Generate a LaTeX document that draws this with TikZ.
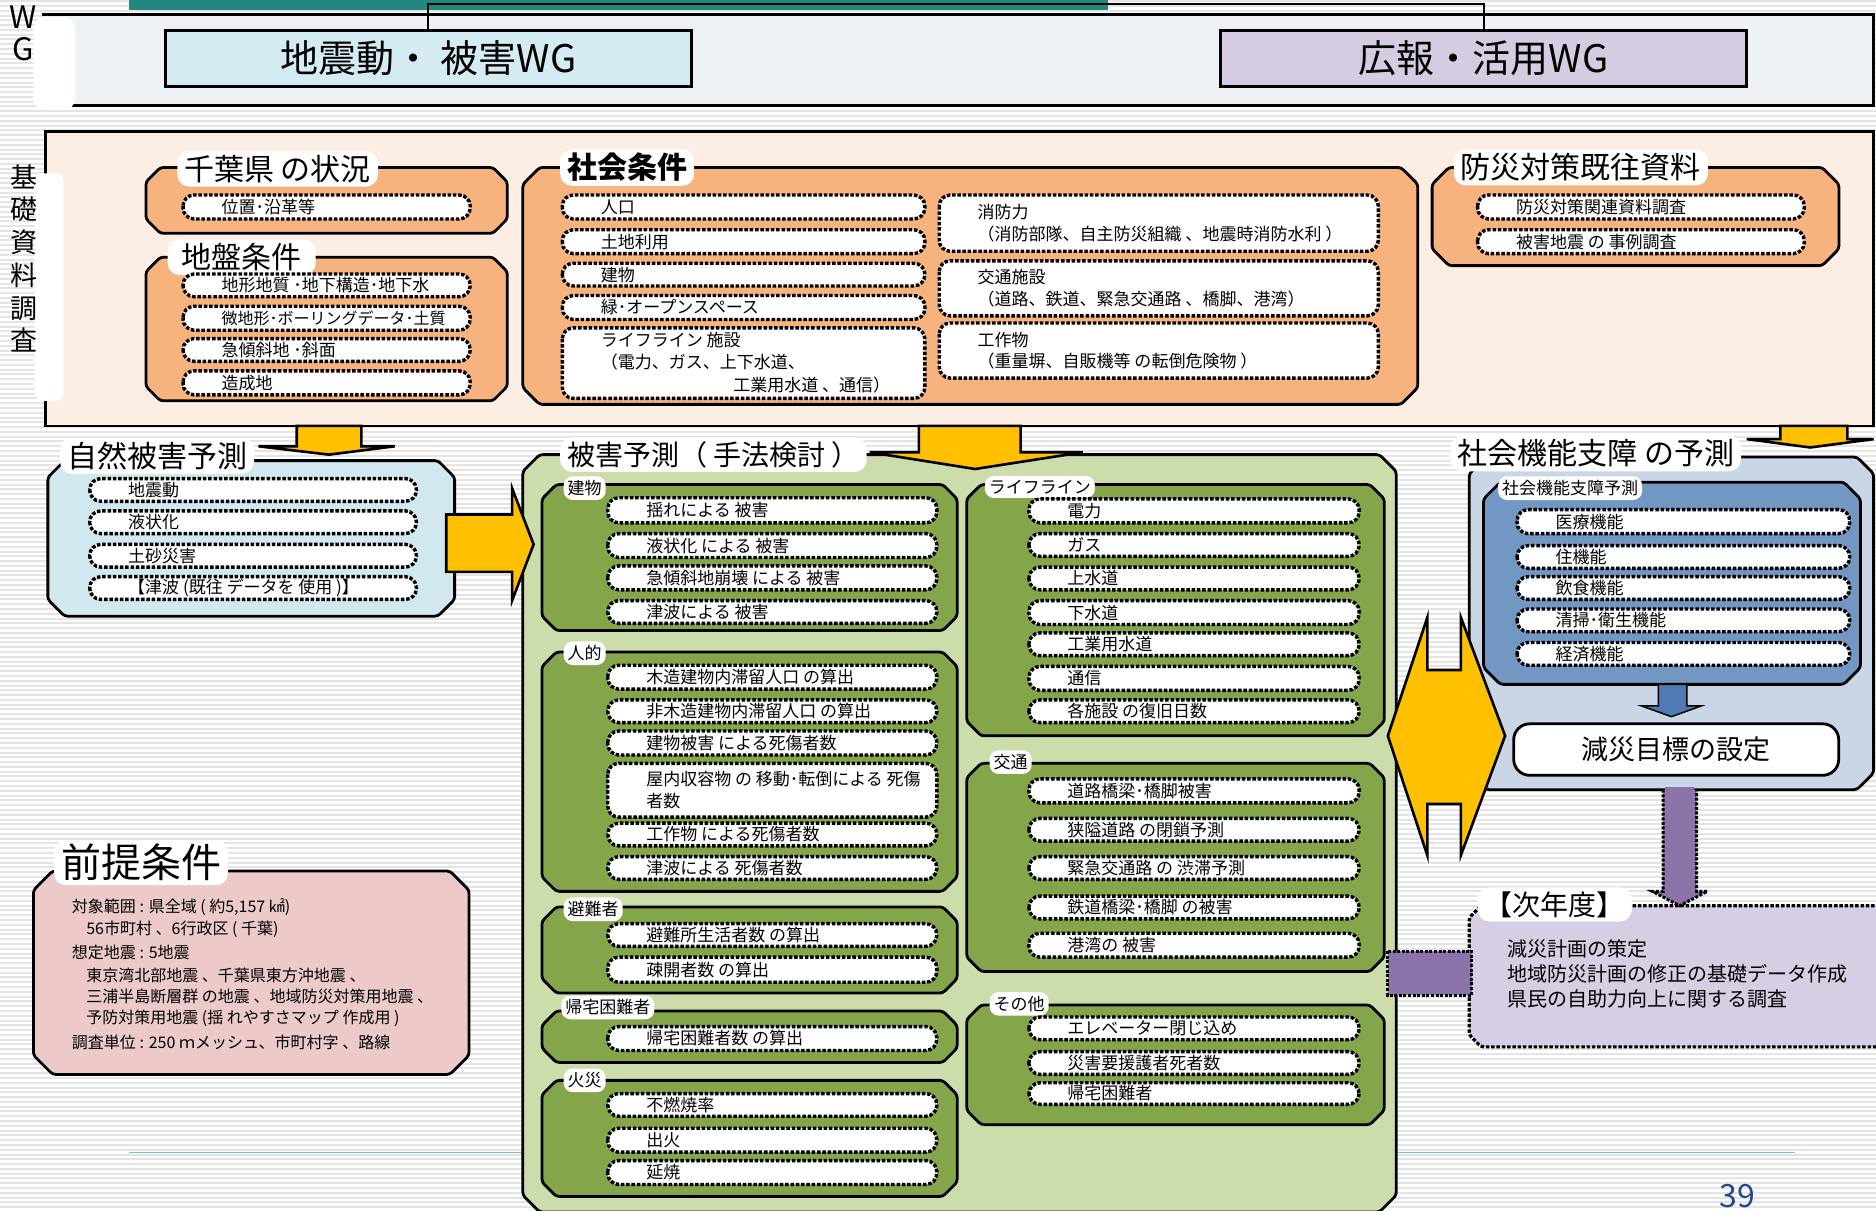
\documentclass[tikz,border=0pt]{standalone}
\usepackage{fontspec}
\setmainfont{Noto Sans CJK JP}
\definecolor{bandc}{HTML}{EEF1F6}
\definecolor{tealc}{HTML}{22877F}
\definecolor{cyanc}{HTML}{D3EBF1}
\definecolor{lavc}{HTML}{D5CCE1}
\definecolor{peachc}{HTML}{FDEEE4}
\definecolor{orangec}{HTML}{F7B37E}
\definecolor{skyc}{HTML}{D2E8EF}
\definecolor{lgreenc}{HTML}{CCDCAB}
\definecolor{dgreenc}{HTML}{84A549}
\definecolor{gbluec}{HTML}{C9D6E6}
\definecolor{mbluec}{HTML}{7197C2}
\definecolor{pinkc}{HTML}{EDCACA}
\definecolor{yellowc}{HTML}{FFC000}
\definecolor{purplec}{HTML}{8C74AA}
\definecolor{barrowc}{HTML}{4F7BB5}
\definecolor{numc}{HTML}{25488A}
\definecolor{stripec}{HTML}{E4E4E4}
\definecolor{linec}{HTML}{7CC3C3}
\definecolor{nlavc}{HTML}{D8CEE3}
\newcommand\chpanel[6]{\draw[#1] (#2+#6,#3) -- (#4-#6,#3) -- (#4,#3+#6) -- (#4,#5-#6) -- (#4-#6,#5) -- (#2+#6,#5) -- (#2,#5-#6) -- (#2,#3+#6) -- cycle;}
\newcommand\itembx[6]{\draw[itemst] (#2,#3) rectangle (#4,#5);
  \node[itxt] (#1) at (#2+32,{(#3+#5)/2}) {#6};}
\begin{document}
\begin{tikzpicture}[x=1.1964pt, y=-1.1964pt,
  pan/.style={draw=black, line width=2.8pt, rounded corners=3pt},
  itemst/.style={fill=white, draw=black, line width=3.4pt, dash pattern=on 3.5pt off 1.8pt, rounded corners=11pt},
  itxt/.style={anchor=west, inner sep=0pt, align=left, font=\fontsize{17}{21.5}\selectfont},
  ttl/.style={fill=white, rounded corners=12pt, anchor=west, inner xsep=7pt, inner ysep=4pt, font=\fontsize{30}{30}\selectfont},
  tag/.style={fill=white, rounded corners=9pt, anchor=west, inner xsep=4pt, inner ysep=4pt, font=\fontsize{17}{17}\selectfont},
  wgbox/.style={draw=black, line width=3pt, minimum width=526pt, minimum height=56pt, font=\fontsize{38}{38}\selectfont, inner sep=0pt},
  yarr/.style={fill=yellowc, draw=black, line width=2.6pt, line join=miter},
  parr/.style={fill=purplec, draw=black, line width=3pt, dash pattern=on 3pt off 1.6pt},
  ptxt/.style={anchor=west, inner sep=0pt, font=\fontsize{16}{16}\selectfont},
  ntxt/.style={anchor=west, inner sep=0pt, font=\fontsize{20}{20}\selectfont},
]
\useasboundingbox (0,0) rectangle (1568,1012);
\fill[white] (0,0) rectangle (1568,1012);
\foreach \yy in {1,5,...,1011} {\draw[stripec, line width=2pt] (0,\yy) -- (1568,\yy);}

% top band
\fill[tealc] (108,0) rectangle (926,8);
\fill[bandc] (35,12) rectangle (1566,88);
\draw[line width=3pt] (35,12) -- (1566,12) -- (1566,88) -- (35,88);
\fill[white, rounded corners=12pt] (28,14) rectangle (63,92);
\node[font=\fontsize{31}{31}\selectfont, inner sep=0pt] (wl) at (19,14) {W};
\node[font=\fontsize{31}{31}\selectfont, inner sep=0pt] (gl) at (19,41) {G};
\node[wgbox, fill=cyanc] (wg1) at (358,48.5) {地震動・ 被害WG};
\node[wgbox, fill=lavc] (wg2) at (1240,48.5) {広報・活用WG};
\coordinate (jn) at (800,3);
\draw[line width=2pt] (wg1.north) |- (jn) -| (wg2.north);

% basic survey panel
\draw[fill=peachc, line width=2.6pt] (38,110) rectangle (1566,356);
\fill[white, rounded corners=8pt] (29,145) rectangle (53,335);
\node[font=\fontsize{27}{32.7}\selectfont, align=center, inner sep=0pt] (vl) at (20,216) {基\\礎\\資\\料\\調\\査};

\chpanel{pan, fill=orangec}{122}{140}{424}{195}{12}
\node[ttl] (t1) at (148,141) {千葉県 の状況};
\itembx{k1}{153}{163}{393}{183}{位置･沿革等}

\chpanel{pan, fill=orangec}{122}{215}{424}{335}{12}
\node[ttl, inner xsep=14pt] (t2) at (140,215) {地盤条件};
\itembx{k2}{153}{229}{393}{248}{地形地質 ･地下構造･地下水}
\itembx{k3}{153}{256}{393}{276}{\fontsize{16}{16}\selectfont 微地形･ボーリングデータ･土質}
\itembx{k4}{153}{283}{393}{302}{急傾斜地 ･斜面}
\itembx{k5}{153}{310}{393}{330}{造成地}

\chpanel{pan, fill=orangec}{437}{140}{1185}{338}{14}
\node[ttl, font=\fontsize{30}{30}\selectfont\bfseries] (t3) at (468,140) {社会条件};
\itembx{s1}{470}{163}{773}{183}{人口}
\itembx{s2}{470}{192}{773}{212}{土地利用}
\itembx{s3}{470}{220}{773}{239}{建物}
\itembx{s4}{470}{247}{773}{267}{緑･オープンスペース}
\itembx{s5}{470}{274}{773}{333}{ライフライン 施設\\（電力、ガス、上下水道、\\[2pt]\hspace*{7.8em}工業用水道 、通信）}
\itembx{s6}{785}{163}{1152}{210}{消防力\\（消防部隊、自主防災組織 、地震時消防水利 ）}
\itembx{s7}{785}{218}{1152}{264}{交通施設\\（道路、鉄道、緊急交通路 、橋脚、港湾）}
\itembx{s8}{785}{270}{1152}{316}{工作物\\（重量塀、自販機等 の転倒危険物 ）}

\chpanel{pan, fill=orangec}{1197}{140}{1537}{222}{14}
\node[ttl] (t4) at (1215,140) {防災対策既往資料};
\itembx{b1}{1235}{163}{1508}{183}{防災対策関連資料調査}
\itembx{b2}{1235}{192}{1508}{212}{被害地震 の 事例調査}

% bottom line
\draw[linec, line width=1.2pt] (108,963) -- (1500,963);

% natural hazard
\chpanel{pan, fill=skyc}{40}{385}{380}{515}{14}
\node[ttl] (t5) at (50,381) {自然被害予測};
\itembx{n1}{75}{400}{348}{419}{地震動}
\itembx{n2}{75}{427}{348}{446}{液状化}
\itembx{n3}{75}{455}{348}{474}{土砂災害}
\itembx{n4}{75}{482}{348}{501}{【津波 (既往 データを 使用 )】}

% premises
\chpanel{pan, fill=pinkc}{28}{728}{392}{898}{16}
\node[ttl, font=\fontsize{40}{40}\selectfont] (t6) at (45,721) {前提条件};
\node[ptxt] (q1) at (60,758) {対象範囲 : 県全域 ( 約5,157 ㎢)};
\node[ptxt] (q2) at (72,777) {56市町村 、6行政区 ( 千葉)};
\node[ptxt] (q3) at (60,796) {想定地震 : 5地震};
\node[ptxt] (q4) at (72,815) {東京湾北部地震 、千葉県東方沖地震 、};
\node[ptxt] (q5) at (72,833) {三浦半島断層群 の地震 、地域防災対策用地震 、};
\node[ptxt] (q6) at (72,851) {予防対策用地震 (揺 れやすさマップ 作成用 )};
\node[ptxt] (q7) at (60,871) {調査単位 : 250 ｍメッシュ、市町村字 、路線};

% damage prediction
\chpanel{pan, fill=lgreenc}{437}{380}{1167}{1013}{14}
\node[ttl, font=\fontsize{28}{28}\selectfont] (t7) at (468,380) {被害予測（ 手法検討 ）};
\chpanel{pan, fill=dgreenc}{453}{405}{800}{527}{12}
\chpanel{pan, fill=dgreenc}{453}{545}{800}{745}{12}
\chpanel{pan, fill=dgreenc}{453}{758}{800}{830}{12}
\chpanel{pan, fill=dgreenc}{453}{845}{800}{888}{12}
\chpanel{pan, fill=dgreenc}{453}{903}{800}{1000}{12}
\chpanel{pan, fill=dgreenc}{808}{405}{1157}{615}{12}
\chpanel{pan, fill=dgreenc}{808}{638}{1157}{812}{12}
\chpanel{pan, fill=dgreenc}{808}{840}{1157}{940}{12}
\node[tag] (g1) at (471,408) {建物};
\node[tag] (g2) at (471,546) {人的};
\node[tag] (g3) at (471,760) {避難者};
\node[tag] (g4) at (469,842) {帰宅困難者};
\node[tag] (g5) at (471,903) {火災};
\node[tag] (g6) at (823,407) {ライフライン};
\node[tag] (g7) at (827,637) {交通};
\node[tag] (g8) at (827,839) {その他};
\itembx{h1}{508}{416}{783}{437}{揺れによる 被害}
\itembx{h2}{508}{446}{783}{466}{液状化 による 被害}
\itembx{h3}{508}{473}{783}{493}{急傾斜地崩壊 による 被害}
\itembx{h4}{508}{502}{783}{521}{津波による 被害}
\itembx{p1}{508}{556}{783}{576}{木造建物内滞留人口 の算出}
\itembx{p2}{508}{585}{783}{604}{非木造建物内滞留人口 の算出}
\itembx{p3}{508}{611}{783}{631}{建物被害 による死傷者数}
\itembx{p4}{508}{638}{783}{683}{屋内収容物 の 移動･転倒による 死傷\\者数}
\itembx{p5}{508}{688}{783}{707}{工作物 による死傷者数}
\itembx{p6}{508}{716}{783}{735}{津波による 死傷者数}
\itembx{e1}{508}{772}{783}{791}{避難所生活者数 の算出}
\itembx{e2}{508}{800}{783}{821}{疎開者数 の算出}
\itembx{r1}{508}{858}{783}{878}{帰宅困難者数 の算出}
\itembx{f1}{508}{914}{783}{933}{不燃焼率}
\itembx{f2}{508}{943}{783}{963}{出火}
\itembx{f3}{508}{970}{783}{990}{延焼}
\itembx{l1}{860}{417}{1136}{437}{電力}
\itembx{l2}{860}{446}{1136}{465}{ガス}
\itembx{l3}{860}{474}{1136}{493}{上水道}
\itembx{l4}{860}{502}{1136}{522}{下水道}
\itembx{l5}{860}{529}{1136}{548}{工業用水道}
\itembx{l6}{860}{557}{1136}{577}{通信}
\itembx{l7}{860}{585}{1136}{604}{各施設 の復旧日数}
\itembx{u1}{860}{651}{1136}{671}{道路橋梁･橋脚被害}
\itembx{u2}{860}{684}{1136}{703}{狭隘道路 の閉鎖予測}
\itembx{u3}{860}{716}{1136}{735}{緊急交通路 の 渋滞予測}
\itembx{u4}{860}{749}{1136}{768}{鉄道橋梁･橋脚 の被害}
\itembx{u5}{860}{780}{1136}{800}{港湾の 被害}
\itembx{o1}{860}{850}{1136}{869}{エレベーター閉じ込め}
\itembx{o2}{860}{879}{1136}{898}{災害要援護者死者数}
\itembx{o3}{860}{905}{1136}{923}{帰宅困難者}

% social function
\chpanel{pan, fill=gbluec}{1228}{382}{1566}{660}{14}
\node[ttl] (t8) at (1212,379) {社会機能支障 の予測};
\chpanel{pan, fill=mbluec}{1240}{403}{1555}{572}{14}
\node[tag] (g9) at (1252,408) {社会機能支障予測};
\itembx{m1}{1268}{426}{1546}{446}{医療機能}
\itembx{m2}{1268}{456}{1546}{475}{住機能}
\itembx{m3}{1268}{482}{1546}{501}{飲食機能}
\itembx{m4}{1268}{509}{1546}{528}{清掃･衛生機能}
\itembx{m5}{1268}{537}{1546}{556}{経済機能}
\draw[fill=barrowc, draw=black, line width=1.5pt] (1386,572) -- (1386,590) -- (1372,590) -- (1397,599) -- (1422,590) -- (1410,590) -- (1410,572) -- cycle;
\node[draw=black, fill=white, line width=2.8pt, rounded corners=16pt, minimum width=325pt, minimum height=51.5pt, font=\fontsize{27}{27}\selectfont] (goal) at (1401,626.5) {減災目標の設定};

% next year
\chpanel{fill=nlavc, draw=black, line width=3.2pt, dash pattern=on 3.5pt off 1.8pt, rounded corners=3pt}{1228}{757}{1580}{875}{10}
\draw[parr] (1390,660) -- (1390,745) -- (1381,745) -- (1404,757) -- (1427,745) -- (1418,745) -- (1418,660);
\fill[purplec] (1392,658) rectangle (1416,747);
\node[ttl, font=\fontsize{28}{28}\selectfont] (t9) at (1235,756) {【次年度】};
\node[ntxt] (y1) at (1260,793) {減災計画の策定};
\node[ntxt] (y2) at (1260,814) {地域防災計画の修正の基礎データ作成};
\node[ntxt] (y3) at (1260,835) {県民の自助力向上に関する調査};
\draw[parr] (1160,795) rectangle (1230,832);

% yellow arrows
\draw[yarr] (248,356) -- (248,373) -- (216,373) -- (275,380) -- (330,373) -- (302,373) -- (302,356) -- cycle;
\draw[yarr] (768,356) -- (768,378) -- (727,378) -- (815,392) -- (905,378) -- (853,378) -- (853,356) -- cycle;
\draw[yarr] (1488,356) -- (1488,367) -- (1460,367) -- (1513,374) -- (1566,367) -- (1544,367) -- (1544,356) -- cycle;
\draw[yarr] (373,430) -- (428,430) -- (428,408) -- (446,455) -- (428,502) -- (428,478) -- (373,478) -- cycle;
\draw[yarr] (1193,516) -- (1193,560) -- (1221,560) -- (1221,516) -- (1258,615) -- (1221,715) -- (1221,672) -- (1193,672) -- (1193,715) -- (1160,615) -- cycle;

\node[font=\fontsize{32}{32}\selectfont, text=numc, inner sep=0pt] (pg) at (1452,1000) {39};
\end{tikzpicture}
\end{document}
